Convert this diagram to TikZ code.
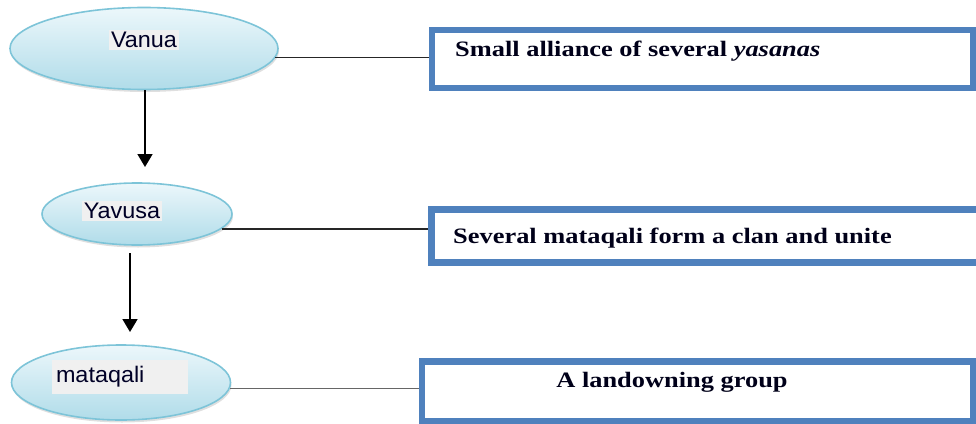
\documentclass[tikz,border=0pt]{standalone}
\usepackage{fontspec}
\setmainfont{Liberation Serif}[FakeStretch=1.2]
\newfontfamily\arialfont{Liberation Sans}[FakeStretch=1.04]
\usetikzlibrary{shapes.geometric,arrows.meta,shadows}
\definecolor{boxblue}{RGB}{79,129,189}
\definecolor{ellborder}{RGB}{125,196,216}
\definecolor{elltop}{RGB}{236,247,251}
\definecolor{ellbot}{RGB}{176,220,233}
\definecolor{labelgrey}{RGB}{240,240,240}
\tikzset{
  ellnode/.style={ellipse, draw=ellborder, line width=1.6pt, top color=elltop, bottom color=ellbot,
    drop shadow={opacity=0.25, shadow xshift=1pt, shadow yshift=-2.5pt}, inner sep=0pt},
  elllabel/.style={fill=labelgrey, font=\arialfont\fontsize{22.5}{26}\selectfont, inner sep=2pt, text=black!85!blue},
  infobox/.style={draw=boxblue, line width=6.5pt, fill=white, inner sep=0pt},
  infotext/.style={font=\bfseries\fontsize{22}{26}\selectfont, text=black!90!blue, inner sep=0pt},
  link/.style={line width=1.2pt, black!85},
  downarrow/.style={line width=1.8pt, -{Triangle[width=15pt,length=13pt]}}
}
\begin{document}
\begin{tikzpicture}[x=1pt,y=-1pt]
\useasboundingbox (0,0) rectangle (976,423);
% ellipses
\node[ellnode, minimum width=268pt, minimum height=82pt] (v) at (144,48.5) {};
\node[ellnode, minimum width=190pt, minimum height=62pt] (y) at (137,214) {};
\node[ellnode, minimum width=219pt, minimum height=75pt] (m) at (121,382.5) {};
\node[elllabel] (vl) at (144,40) {Vanua};
\node[elllabel] (yl) at (122,211) {Yavusa};
\node[elllabel, minimum width=136pt, minimum height=34pt, text width=128pt, align=left] (ml) at (120,377) {mataqali};
% boxes
\node[infobox, minimum width=541pt, minimum height=58pt] (b1) at (702.5,59) {};
\node[infobox, minimum width=560pt, minimum height=53pt] (b2) at (711.5,236) {};
\node[infobox, minimum width=551pt, minimum height=60pt] (b3) at (697.5,391.5) {};
\node[infotext, anchor=base west] (t1) at (455,56) {Small alliance of several \textit{yasanas}};
\node[infotext, anchor=base west] (t2) at (453,243) {Several mataqali form a clan and unite};
\node[infotext, anchor=base] (t3) at (672,387) {A landowning group};
% connectors
\draw[link] (v.-4) -- (v.-4 -| b1.west);
\draw[link] (y.-10) -- (y.-10 -| b2.west);
\draw[link, black!60] (m.-3) -- (m.-3 -| b3.west);
\coordinate (a1e) at (145,167);
\coordinate (a2s) at (130,253);
\coordinate (a2e) at (130,332);
\draw[downarrow] (v.south -| a1e) -- (a1e);
\draw[downarrow] (a2s) -- (a2e);
\end{tikzpicture}
\end{document}
